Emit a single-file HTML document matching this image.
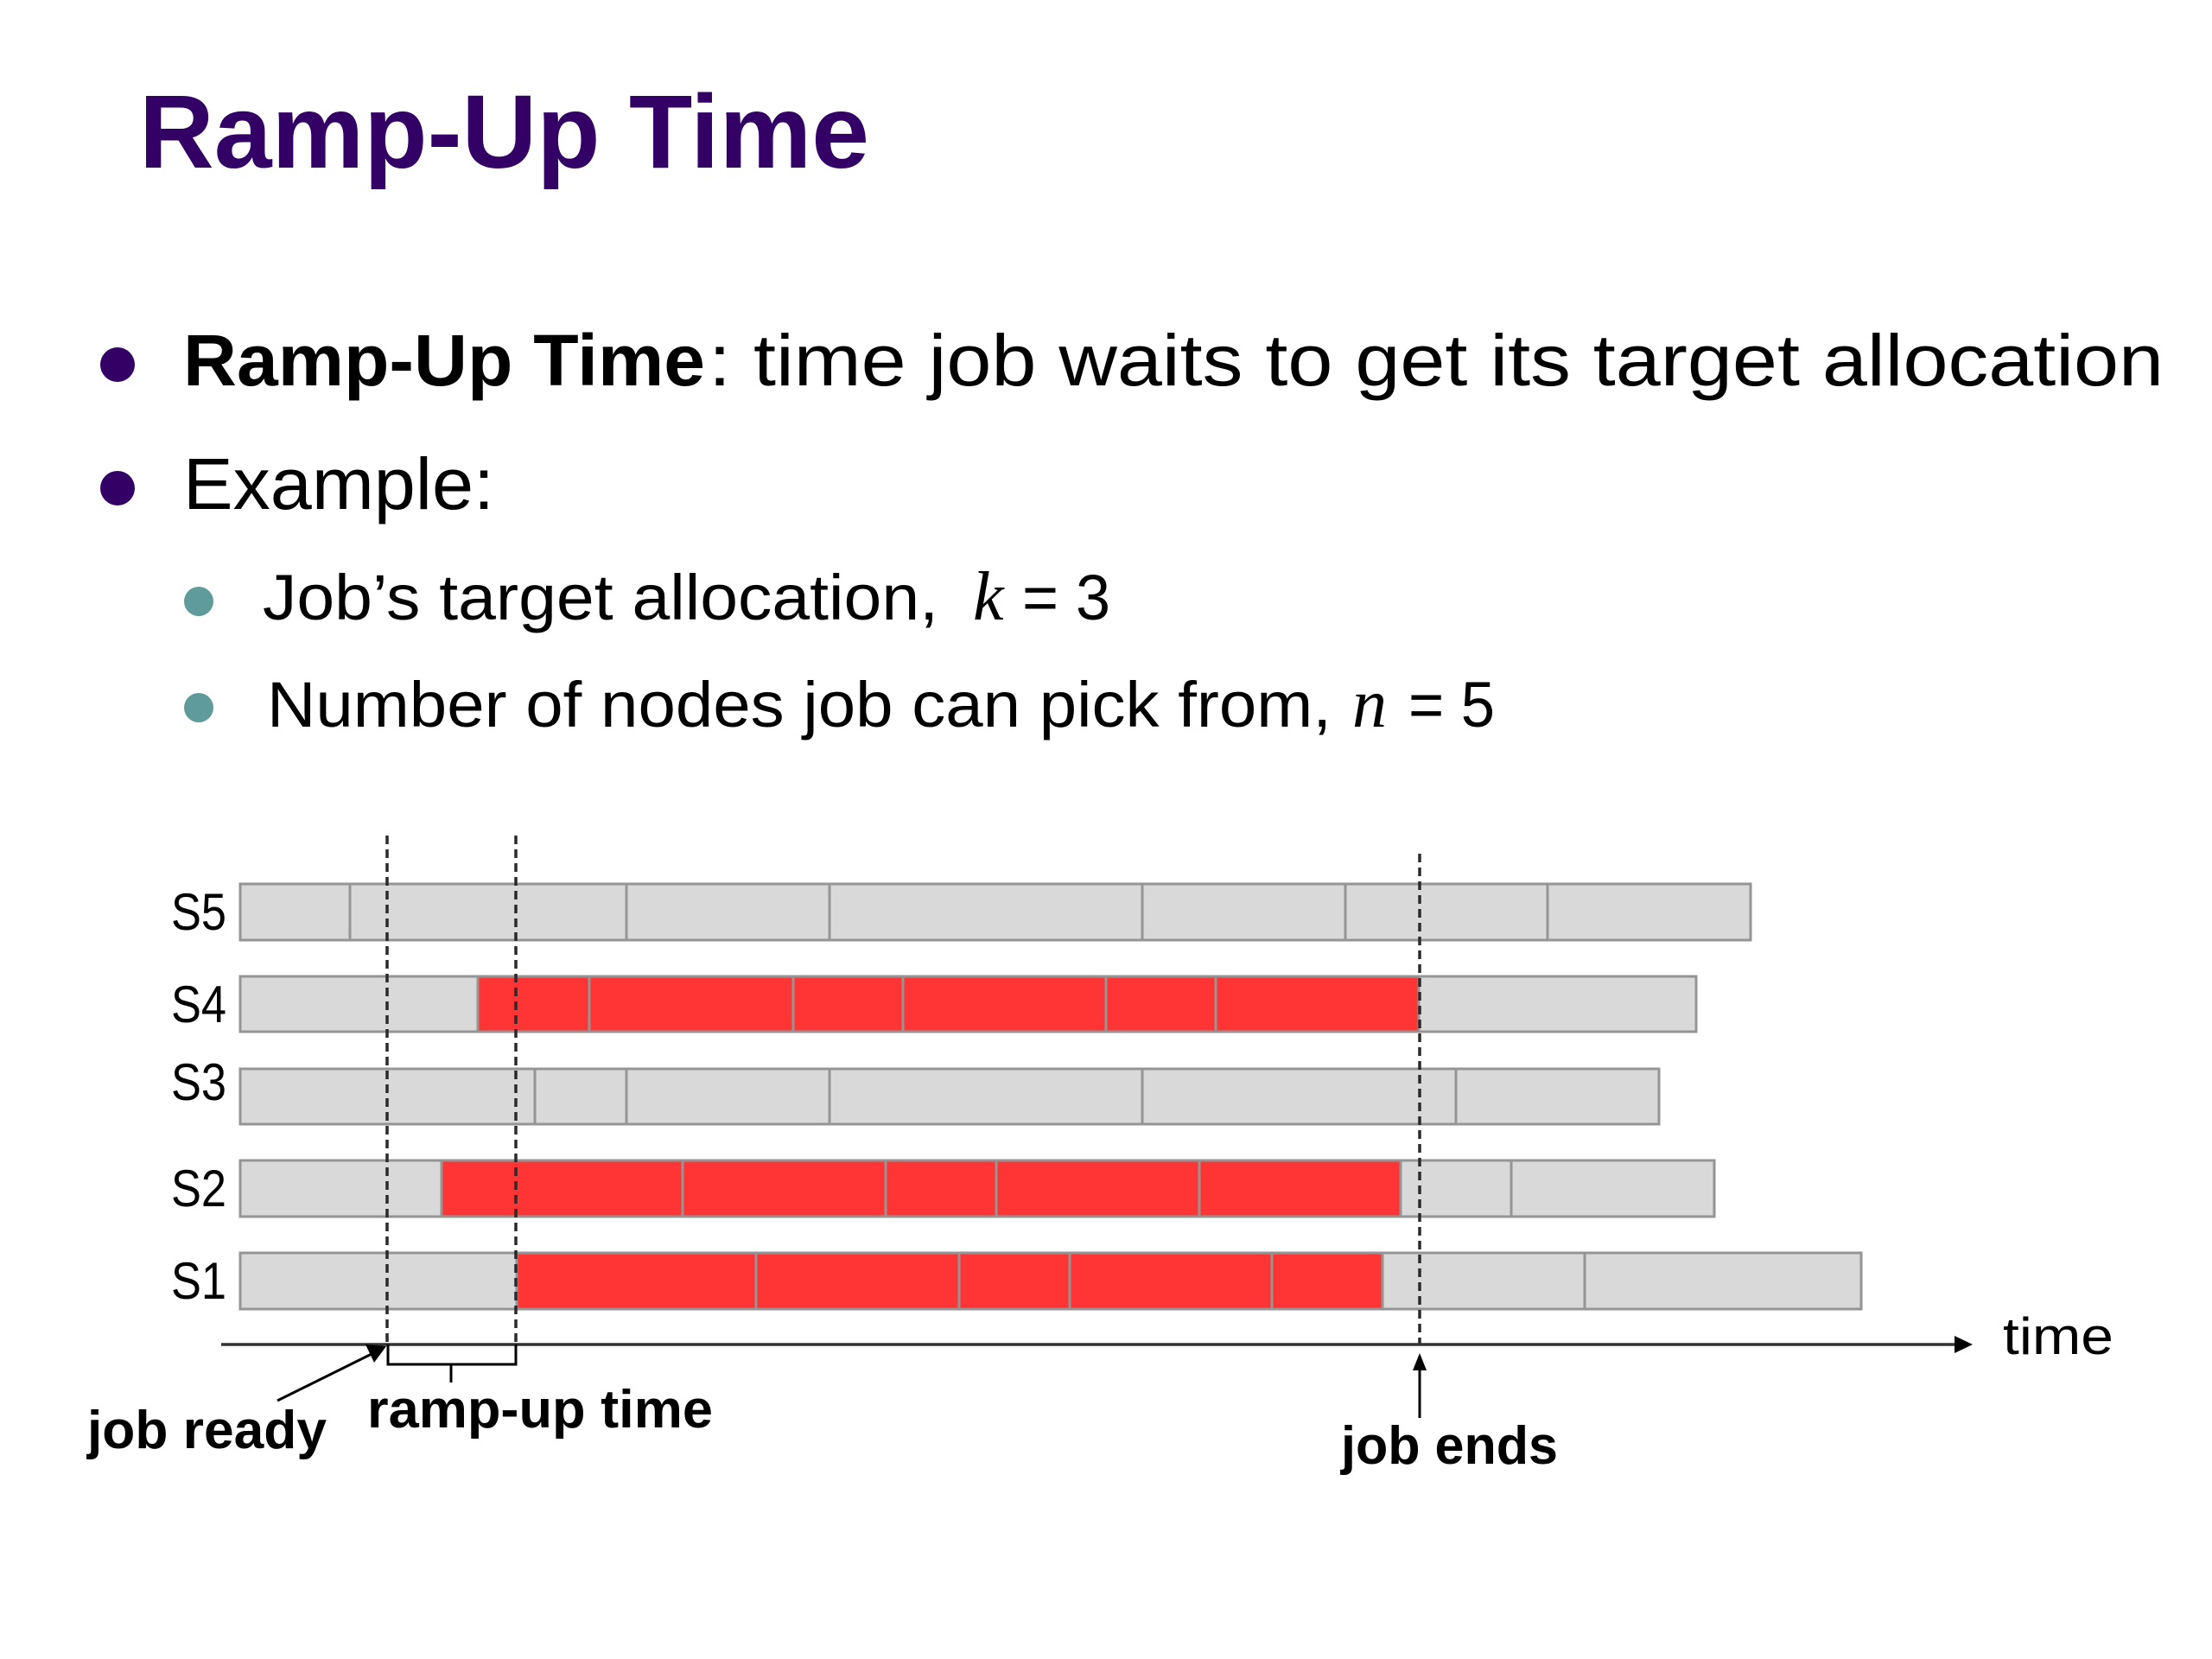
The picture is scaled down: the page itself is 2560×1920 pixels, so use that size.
<!DOCTYPE html>
<html>
<head>
<meta charset="utf-8">
<style>
  html, body { margin: 0; padding: 0; background: #ffffff; }
  svg { display: block; }
  .sans { font-family: "Liberation Sans", "DejaVu Sans", sans-serif; }
  .serif { font-family: "Liberation Serif", "DejaVu Serif", serif; }
</style>
</head>
<body>
<svg width="2560" height="1920" viewBox="0 0 2560 1920" xmlns="http://www.w3.org/2000/svg">
  <rect x="0" y="0" width="2560" height="1920" fill="#ffffff"/>

  <!-- Title -->
  <text class="sans" x="161" y="194" font-size="121" font-weight="bold" fill="#330066" textLength="845" lengthAdjust="spacingAndGlyphs">Ramp-Up Time</text>

  <!-- Bullets -->
  <circle cx="136" cy="422" r="20" fill="#330066"/>
  <text class="sans" x="212" y="446" font-size="84" font-weight="bold" fill="#000" textLength="604" lengthAdjust="spacingAndGlyphs">Ramp-Up Time</text>
  <text class="sans" x="820" y="446" font-size="84" fill="#000" textLength="1684" lengthAdjust="spacingAndGlyphs">: time job waits to get its target allocation</text>

  <circle cx="136" cy="565" r="20" fill="#330066"/>
  <text class="sans" x="212" y="589" font-size="84" fill="#000" textLength="360" lengthAdjust="spacingAndGlyphs">Example:</text>

  <circle cx="230" cy="696" r="17" fill="#5f9b9a"/>
  <text class="sans" x="304" y="717" font-size="74" fill="#000" textLength="782" lengthAdjust="spacingAndGlyphs">Job’s target allocation,</text>
  <text class="serif" x="1126" y="717" font-size="80" font-style="italic" fill="#000">k</text>
  <text class="sans" x="1183" y="717" font-size="74" fill="#000" textLength="102" lengthAdjust="spacingAndGlyphs">= 3</text>

  <circle cx="230" cy="819" r="17" fill="#5f9b9a"/>
  <text class="sans" x="309" y="841" font-size="74" fill="#000" textLength="1232" lengthAdjust="spacingAndGlyphs">Number of nodes job can pick from,</text>
  <text class="serif" x="1565" y="841" font-size="80" font-style="italic" fill="#000">n</text>
  <text class="sans" x="1630" y="841" font-size="74" fill="#000" textLength="100" lengthAdjust="spacingAndGlyphs">= 5</text>

  <!-- Bars -->
  <g stroke="#959595" stroke-width="3">
    <!-- S5 -->
    <rect x="278" y="1023" width="1748" height="65" fill="#d9d9d9"/>
    <line x1="405" y1="1023" x2="405" y2="1088"/>
    <line x1="725" y1="1023" x2="725" y2="1088"/>
    <line x1="960" y1="1023" x2="960" y2="1088"/>
    <line x1="1322" y1="1023" x2="1322" y2="1088"/>
    <line x1="1557" y1="1023" x2="1557" y2="1088"/>
    <line x1="1791" y1="1023" x2="1791" y2="1088"/>

    <!-- S4 -->
    <rect x="278" y="1130" width="1685" height="64" fill="#d9d9d9"/>
    <rect x="553" y="1130" width="1089" height="64" fill="#ff3535"/>
    <line x1="682" y1="1130" x2="682" y2="1194"/>
    <line x1="918" y1="1130" x2="918" y2="1194"/>
    <line x1="1045" y1="1130" x2="1045" y2="1194"/>
    <line x1="1280" y1="1130" x2="1280" y2="1194"/>
    <line x1="1407" y1="1130" x2="1407" y2="1194"/>

    <!-- S3 -->
    <rect x="278" y="1237" width="1642" height="64" fill="#d9d9d9"/>
    <line x1="619" y1="1237" x2="619" y2="1301"/>
    <line x1="725" y1="1237" x2="725" y2="1301"/>
    <line x1="960" y1="1237" x2="960" y2="1301"/>
    <line x1="1322" y1="1237" x2="1322" y2="1301"/>
    <line x1="1685" y1="1237" x2="1685" y2="1301"/>

    <!-- S2 -->
    <rect x="278" y="1343" width="1706" height="65" fill="#d9d9d9"/>
    <rect x="511" y="1343" width="1110" height="65" fill="#ff3535"/>
    <line x1="790" y1="1343" x2="790" y2="1408"/>
    <line x1="1025" y1="1343" x2="1025" y2="1408"/>
    <line x1="1153" y1="1343" x2="1153" y2="1408"/>
    <line x1="1388" y1="1343" x2="1388" y2="1408"/>
    <line x1="1749" y1="1343" x2="1749" y2="1408"/>

    <!-- S1 -->
    <rect x="278" y="1450" width="1876" height="65" fill="#d9d9d9"/>
    <rect x="598" y="1450" width="1002" height="65" fill="#ff3535"/>
    <line x1="875" y1="1450" x2="875" y2="1515"/>
    <line x1="1110" y1="1450" x2="1110" y2="1515"/>
    <line x1="1238" y1="1450" x2="1238" y2="1515"/>
    <line x1="1472" y1="1450" x2="1472" y2="1515"/>
    <line x1="1834" y1="1450" x2="1834" y2="1515"/>
  </g>

  <!-- Row labels -->
  <g class="sans" font-size="60" fill="#000">
    <text x="198" y="1076" textLength="64" lengthAdjust="spacingAndGlyphs">S5</text>
    <text x="198" y="1183" textLength="64" lengthAdjust="spacingAndGlyphs">S4</text>
    <text x="198" y="1273" textLength="64" lengthAdjust="spacingAndGlyphs">S3</text>
    <text x="198" y="1396" textLength="64" lengthAdjust="spacingAndGlyphs">S2</text>
    <text x="198" y="1503" textLength="64" lengthAdjust="spacingAndGlyphs">S1</text>
  </g>

  <!-- Dashed lines -->
  <g stroke="#2a2a2a" stroke-width="3.5" stroke-dasharray="10,6" fill="none">
    <line x1="448" y1="967" x2="448" y2="1556"/>
    <line x1="597" y1="967" x2="597" y2="1556"/>
    <line x1="1643" y1="988" x2="1643" y2="1556"/>
  </g>

  <!-- Time axis -->
  <line x1="256" y1="1556" x2="2266" y2="1556" stroke="#333" stroke-width="3.5"/>
  <polygon points="2283,1556 2262,1546 2262,1566" fill="#000"/>
  <text class="sans" x="2318" y="1567" font-size="60" fill="#000" textLength="128" lengthAdjust="spacingAndGlyphs">time</text>

  <!-- Bracket for ramp-up time -->
  <path d="M449,1556 L449,1579 L597,1579 L597,1556 M522,1579 L522,1600" stroke="#000" stroke-width="3" fill="none"/>

  <!-- Arrow to job ready -->
  <line x1="321" y1="1621" x2="432" y2="1566" stroke="#000" stroke-width="3"/>
  <polygon points="447,1558 423,1556 433,1577" fill="#000"/>

  <!-- Arrow job ends -->
  <line x1="1643" y1="1641" x2="1643" y2="1582" stroke="#000" stroke-width="3"/>
  <polygon points="1643,1566 1635,1586 1651,1586" fill="#000"/>

  <!-- Annotation labels -->
  <g class="sans" font-weight="bold" fill="#000">
    <text x="101" y="1676" font-size="62" textLength="277" lengthAdjust="spacingAndGlyphs">job ready</text>
    <text x="425" y="1652" font-size="62" textLength="400" lengthAdjust="spacingAndGlyphs">ramp-up time</text>
    <text x="1552" y="1694" font-size="62" textLength="251" lengthAdjust="spacingAndGlyphs">job ends</text>
  </g>
</svg>
</body>
</html>
